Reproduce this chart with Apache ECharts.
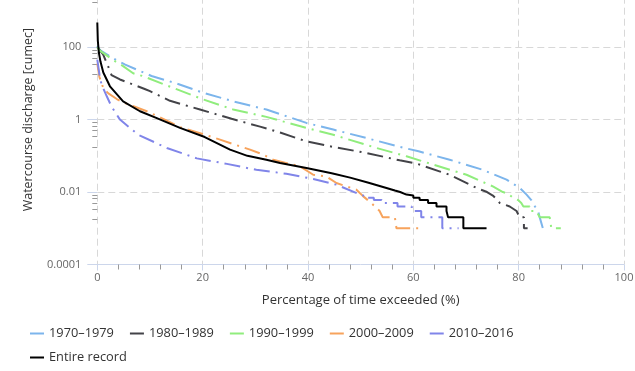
<!DOCTYPE html>
<html><head><meta charset="utf-8">
<script src="https://cdn.jsdelivr.net/npm/echarts@6/dist/echarts.min.js"></script>
<style>html,body{margin:0;padding:0;background:#fff}#c{width:635px;height:371px}</style>
</head><body><div id="c"></div>
<script>
// ---- data ----
const seriesNames = ['1970–1979', '1980–1989', '1990–1999', '2000–2009', '2010–2016', 'Entire record'];
const xTickValues = [0, 20, 40, 60, 80, 100];
const yTickValues = [0.0001, 0.01, 1, 100, 10000];
const xAxisTitle = 'Percentage of time exceeded (%)';
const yAxisTitle = 'Watercourse discharge [cumec]';

// [percentage of time exceeded, discharge]
const d1970 = [[0,110],[0.5,83],[2.4,56],[3.7,43],[5.3,33],[8.1,22],[10.3,16],[15,10],[20.1,5.5],[25.8,3.2],[32.1,1.9],[39.7,0.81],[44.8,0.53],[51.1,0.31],[57.5,0.176],[61,0.133],[66.9,0.078],[73.2,0.041],[77.7,0.022],[80.2,0.013],[81.5,0.0085],[82.4,0.006],[83.1,0.004],[83.7,0.003],[84,0.002],[84.6,0.001],[85.5,0.001]];
const d1980 = [[0,100],[1.1,63],[2,31],[2.7,17],[4.3,12.8],[6.8,9.3],[9,7],[10,6.1],[13.8,3.3],[19.5,1.9],[25.5,1.05],[30.9,0.64],[34.7,0.44],[39.7,0.25],[44.8,0.176],[51.1,0.12],[57.4,0.075],[60.6,0.061],[66.9,0.03],[72,0.013],[74,0.01],[75.1,0.008],[76,0.006],[76.4,0.005],[78.3,0.004],[79.6,0.003],[80.2,0.002],[81,0.002],[81,0.001],[81.7,0.001]];
const d1990 = [[0,100],[0.5,80],[2.4,51],[3.7,38],[4.9,30],[6.8,19],[8.7,15.8],[14.4,7.5],[20.1,3.6],[25.8,1.9],[32.1,1.19],[39.7,0.59],[44.8,0.38],[53,0.165],[58.7,0.097],[63.8,0.057],[70.1,0.03],[75.1,0.0143],[77,0.01],[78,0.009],[78.9,0.007],[79.9,0.006],[80.5,0.005],[80.9,0.004],[82.1,0.004],[82.1,0.003],[83.4,0.003],[84,0.002],[85.9,0.002],[86.2,0.001],[88,0.001]];
const d2000 = [[0,35],[0.4,15],[1.2,7],[2.1,5.3],[3.7,3.7],[4.9,3],[7,2.3],[9.4,1.7],[12.5,1.05],[15.7,0.62],[20,0.4],[23.3,0.28],[29,0.148],[31.5,0.108],[33.4,0.078],[38.5,0.051],[41,0.03],[43.5,0.027],[45.4,0.0178],[47.3,0.0143],[49.2,0.0116],[50.5,0.0076],[52,0.005],[53.6,0.003],[54.2,0.002],[56.5,0.002],[56.8,0.001],[61.5,0.001]];
const d2010 = [[0,45],[0.4,18],[0.8,9.3],[1.8,4.4],[2.7,2.3],[4.3,1],[7.8,0.38],[13.2,0.165],[18.9,0.085],[24.6,0.06],[30.2,0.041],[35.9,0.032],[41,0.023],[45.4,0.016],[49.5,0.009],[50.5,0.008],[50.5,0.007],[52.5,0.007],[52.5,0.006],[54,0.006],[54,0.005],[57,0.005],[57,0.004],[59.7,0.004],[59.7,0.003],[61.5,0.003],[61.5,0.002],[65.5,0.002],[65.5,0.001],[68.6,0.001]];
const dAll = [[0,480],[0.1,150],[0.3,70],[0.6,40],[1.14,20],[2.4,8.3],[4.9,3.2],[8.1,1.7],[11.3,1.1],[15.7,0.59],[20.4,0.33],[25.2,0.148],[28.5,0.1],[32.1,0.078],[34.7,0.063],[39.7,0.046],[44.5,0.033],[48,0.025],[51.5,0.018],[54.9,0.013],[56.5,0.011],[57.5,0.01],[58.7,0.0085],[60,0.008],[60,0.007],[61.2,0.007],[61.2,0.006],[62.8,0.006],[62.8,0.005],[64.4,0.005],[64.4,0.004],[66.3,0.004],[66.3,0.003],[66.6,0.003],[66.6,0.002],[69.5,0.002],[69.5,0.001],[73.9,0.001]];
const seriesData = [d1970, d1980, d1990, d2000, d2010, dAll];

// ---- styles ----
const colors = ['#7cb5ec', '#434348', '#90ed7d', '#f7a35c', '#8085e9', '#000000'];
const FONT = '"Open Sans", "DejaVu Sans", sans-serif';

const chart = echarts.init(document.getElementById('c'), null, {renderer: 'canvas'});
const series = seriesNames.map((name, i) => ({
  name: name,
  type: 'line',
  data: seriesData[i],
  showSymbol: false,
  symbol: 'none',
  smooth: false,
  z: i === 5 ? 10 : 3,
  lineStyle: {
    color: colors[i],
    width: 2,
    type: i === 5 ? 'solid' : [16, 6, 2, 6],
    cap: 'butt'
  },
  itemStyle: {color: colors[i]},
  emphasis: {disabled: true}
}));

const legendText = {fontFamily: FONT, fontSize: 12.8, color: '#333'};
chart.setOption({
  animation: false,
  backgroundColor: '#fff',
  grid: {left: 97.3, right: 11, top: -25.3, bottom: 106.5, containLabel: false, outerBoundsMode: 'none'},
  legend: [
    {
      data: seriesNames.slice(0, 5),
      left: 25, top: 322, itemGap: 16, itemWidth: 14, itemHeight: 2, icon: 'rect',
      textStyle: legendText
    },
    {
      data: seriesNames.slice(5),
      left: 25, top: 346, itemGap: 16, itemWidth: 14, itemHeight: 2, icon: 'rect',
      textStyle: legendText
    }
  ],
  xAxis: {
    type: 'value',
    min: xTickValues[0], max: xTickValues[xTickValues.length - 1],
    interval: xTickValues[1] - xTickValues[0],
    name: xAxisTitle, nameLocation: 'middle', nameGap: 29,
    nameTextStyle: {fontFamily: FONT, fontSize: 13, color: '#333'},
    axisLine: {show: true, lineStyle: {color: '#ccd6eb', width: 1}},
    axisTick: {show: true, length: 6, lineStyle: {color: '#ccd6eb'}},
    minorTick: {show: true, splitNumber: 5, length: 5, lineStyle: {color: '#999'}},
    axisLabel: {fontFamily: FONT, fontSize: 11, color: '#666', margin: 8},
    splitLine: {show: true, lineStyle: {color: '#d8d8d8', type: [7, 4], width: 1}}
  },
  yAxis: {
    type: 'log', logBase: 100,
    min: yTickValues[0], max: yTickValues[yTickValues.length - 1],
    splitNumber: yTickValues.length - 1,
    name: yAxisTitle, nameLocation: 'middle', nameGap: 62,
    nameTextStyle: {fontFamily: FONT, fontSize: 12.5, color: '#333'},
    axisLine: {show: false},
    axisTick: {show: true, length: 10, lineStyle: {color: '#ccd6eb'}},
    minorTick: {show: true, splitNumber: 6, length: 5, lineStyle: {color: '#999'}},
    axisLabel: {fontFamily: FONT, fontSize: 11, color: '#666', margin: 16,
      formatter: v => String(+Number(v).toPrecision(6))},
    splitLine: {show: true, lineStyle: {color: '#d8d8d8', type: [7, 4], width: 1}}
  },
  series: series
});
</script>
</body></html>
